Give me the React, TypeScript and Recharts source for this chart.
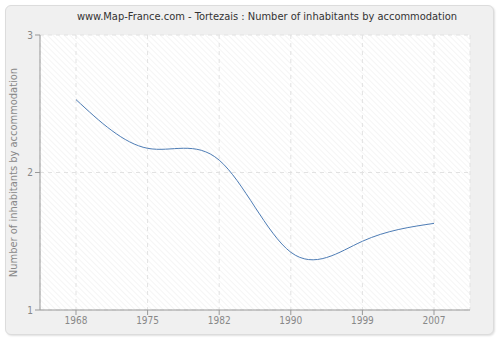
import React from "react";
import { LineChart, Line, XAxis, YAxis, CartesianGrid } from "recharts";

const years = ["1968", "1975", "1982", "1990", "1999", "2007"];
const inhabitants = [2.53, 2.176, 2.09, 1.42, 1.5, 1.63];
const yTicks = [1, 2, 3];

const data = years.map((year, i) => ({ year, value: inhabitants[i] }));

const FONT = "'DejaVu Sans Condensed', 'DejaVu Sans', sans-serif";

export default function App() {
  return (
    <div style={{ position: "absolute", left: 0, top: 0, width: 500, height: 340, background: "#ffffff" }}>
      <svg width={0} height={0} style={{ position: "absolute" }}>
        <defs>
          <pattern id="hatch" patternUnits="userSpaceOnUse" width={4} height={4} patternTransform="rotate(-45)">
            <rect x={0} y={0} width={4} height={4} fill="#ffffff" />
            <line x1={0} y1={0} x2={0} y2={4} stroke="#ececec" strokeWidth={1} />
          </pattern>
        </defs>
      </svg>
      <div
        style={{
          position: "absolute",
          left: 5,
          top: 5,
          width: 487,
          height: 328,
          background: "#f0f0f0",
          border: "1px solid #dcdcdc",
          borderRadius: 6,
          boxShadow: "1px 1px 2px #e0e0e0",
        }}
      />
      <div
        style={{
          position: "absolute",
          left: 0,
          top: 10,
          width: 534,
          textAlign: "center",
          fontFamily: FONT,
          fontSize: 11,
          color: "#333333",
        }}
      >
        www.Map-France.com - Tortezais : Number of inhabitants by accommodation
      </div>
      <div style={{ position: "absolute", left: 0, top: 0 }}>
        <LineChart width={500} height={340} data={data} margin={{ top: 35, right: 30, bottom: 0, left: 0 }}>
          <CartesianGrid
            stroke="#e2e2e2"
            strokeDasharray="4 4"
            fill="url(#hatch)"
            fillOpacity={1}
            horizontal={true}
            vertical={true}
          />
          <XAxis
            dataKey="year"
            padding={{ left: 36, right: 36 }}
            height={30}
            stroke="#999999"
            tickLine={{ stroke: "#999999" }}
            tickSize={5}
            tick={{ fill: "#888888", fontSize: 10, fontFamily: FONT }}
            interval={0}
          />
          <YAxis
            domain={[1, 3]}
            ticks={yTicks}
            width={40}
            stroke="#999999"
            tickLine={{ stroke: "#999999" }}
            tickSize={5}
            tick={{ fill: "#888888", fontSize: 10, fontFamily: FONT }}
            label={{
              value: "Number of inhabitants by accommodation",
              angle: -90,
              position: "insideLeft",
              dx: 8,
              style: { fill: "#888888", fontSize: 11, fontFamily: FONT, textAnchor: "middle" },
            }}
          />
          <Line
            type="natural"
            dataKey="value"
            stroke="#4d7cb5"
            strokeWidth={1}
            dot={false}
            isAnimationActive={false}
          />
        </LineChart>
      </div>
    </div>
  );
}
